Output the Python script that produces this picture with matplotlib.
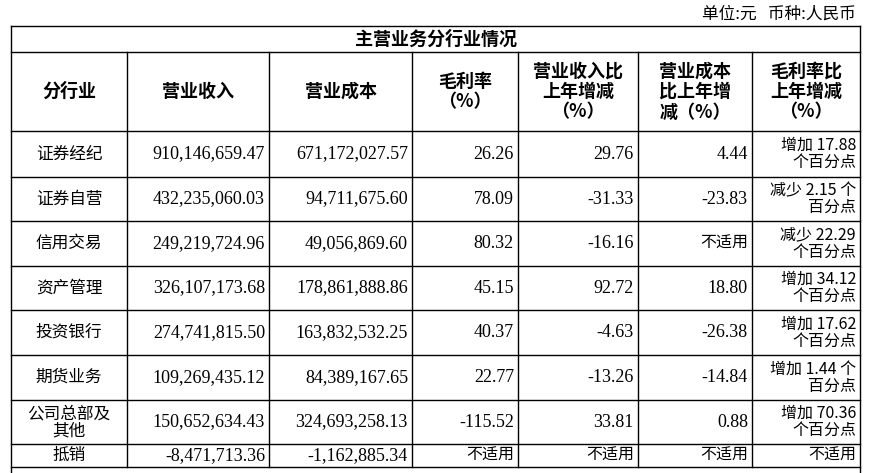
import matplotlib.pyplot as plt

# 表格数据
industries = ['证券经纪', '证券自营', '信用交易', '资产管理', '投资银行', '期货业务', '公司总部及\n其他', '抵销']
revenue = ['910,146,659.47', '432,235,060.03', '249,219,724.96', '326,107,173.68',
           '274,741,815.50', '109,269,435.12', '150,652,634.43', '-8,471,713.36']
cost = ['671,172,027.57', '94,711,675.60', '49,056,869.60', '178,861,888.86',
        '163,832,532.25', '84,389,167.65', '324,693,258.13', '-1,162,885.34']
margin = ['26.26', '78.09', '80.32', '45.15', '40.37', '22.77', '-115.52', '不适用']
rev_chg = ['29.76', '-31.33', '-16.16', '92.72', '-4.63', '-13.26', '33.81', '不适用']
cost_chg = ['4.44', '-23.83', '不适用', '18.80', '-26.38', '-14.84', '0.88', '不适用']
margin_chg = ['增加 17.88\n个百分点', '减少 2.15 个\n百分点', '减少 22.29\n个百分点', '增加 34.12\n个百分点',
              '增加 17.62\n个百分点', '增加 1.44 个\n百分点', '增加 70.36\n个百分点', '不适用']
headers = ['分行业', '营业收入', '营业成本', '毛利率\n（%）', '营业收入比\n上年增减\n（%）',
           '营业成本\n比上年增\n减（%）', '毛利率比\n上年增减\n（%）']

W, H = 869, 473
col_x = [11, 127, 269, 412, 518, 638, 752, 860]
row_y = [26, 52, 131, 177, 221, 266, 310, 355, 400, 444, 467]

cjk = 'Noto Sans CJK SC'
num = 'Liberation Serif'

fig = plt.figure(figsize=(W / 100, H / 100), dpi=100, facecolor='white')
ax = fig.add_axes([0, 0, 1, 1])
ax.set_xlim(0, W)
ax.set_ylim(H, 0)
ax.axis('off')

lw = 1.0
# 外框与横线
for y in row_y:
    ax.plot([col_x[0], col_x[-1]], [y, y], color='black', lw=lw)
ax.plot([col_x[0], col_x[0]], [row_y[0], H], color='black', lw=lw)
ax.plot([col_x[-1], col_x[-1]], [row_y[0], H], color='black', lw=lw)
for x in col_x[1:-1]:
    ax.plot([x, x], [row_y[1], row_y[-1]], color='black', lw=lw)

ax.text(856, 14, '单位:元   币种:人民币', ha='right', va='center', fontsize=12, family=cjk)
ax.text((col_x[0] + col_x[-1]) / 2, (row_y[0] + row_y[1]) / 2, '主营业务分行业情况',
        ha='center', va='center', fontsize=13, family=cjk, weight='bold')

hy = (row_y[1] + row_y[2]) / 2
for j, h in enumerate(headers):
    ax.text((col_x[j] + col_x[j + 1]) / 2, hy, h, ha='center', va='center',
            fontsize=13, family=cjk, weight='bold', linespacing=1.1)

cols = [revenue, cost, margin, rev_chg, cost_chg, margin_chg]
for i in range(len(industries)):
    cy = (row_y[i + 2] + row_y[i + 3]) / 2
    ax.text((col_x[0] + col_x[1]) / 2, cy, industries[i], ha='center', va='center',
            fontsize=12, family=cjk, linespacing=1.0)
    for j, c in enumerate(cols):
        v = c[i]
        f = cjk if any(ord(ch) > 127 for ch in v) else num
        ax.text(col_x[j + 2] - 4, cy, v, ha='right', va='center',
                fontsize=13 if f == num else 11.5, family=f, linespacing=1.0)

fig.savefig('out.png', dpi=100, facecolor='white')
